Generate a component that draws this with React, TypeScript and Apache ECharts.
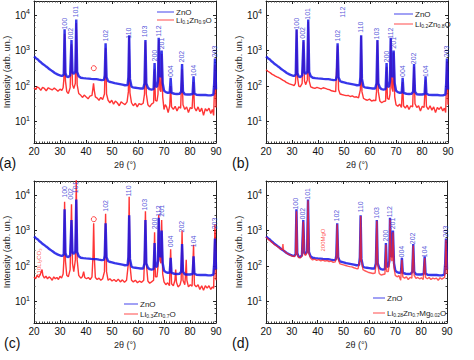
import React, { useEffect, useRef } from 'react';
import * as echarts from 'echarts';

const PEAK_HKL = ['100', '002', '101', '102', '110', '103', '200', '112', '201', '004', '202', '104', '203'];
const PEAK_POS = [31.77, 34.42, 36.25, 47.54, 56.6, 62.86, 66.38, 67.96, 69.1, 72.56, 76.95, 81.37, 89.6];
const LABEL_Y_A = [3800, 2000, 8300, 1750, 2100, 2300, 480, 2400, 1050, 175, 450, 180, 630];
const LABEL_Y_B = [3800, 2100, 7200, 1750, 3100, 2000, 450, 2100, 1100, 175, 400, 175, 630];
const LABEL_Y_C = [8200, 7200, 11000, 3300, 8800, 3550, 1050, 2400, 2400, 330, 860, 330, 1050];
const LABEL_Y_D = [3800, 2000, 7200, 1750, 3150, 2100, 480, 2300, 1050, 170, 400, 170, 630];

const SERIES_NAMES = ['ZnO', 'Li0.1Zn0.9O', 'Li0.2Zn0.8O', 'Li0.3Zn0.7O', 'Li0.28Zn0.7Mg0.02O'];
const PANEL_TAGS = ['(a)', '(b)', '(c)', '(d)'];

const ZNO: [number, number][] = [
  [20, 680], [20.5, 640], [21, 590], [21.5, 560], [22, 510], [22.5, 480], [23, 440], [23.5, 415], [24, 390], [24.5, 365],
  [25, 345], [25.5, 320], [26, 300], [26.5, 282], [27, 265], [27.5, 250], [28, 235], [28.5, 224], [29, 215], [29.5, 207],
  [30, 200], [30.5, 196], [31, 195], [31.45, 215], [31.77, 4000], [32.1, 230], [32.6, 185], [33.2, 180], [33.9, 200],
  [34.42, 2000], [34.8, 240], [35.3, 220], [35.9, 260], [36.25, 7500], [36.6, 250], [37.2, 190], [38, 172], [39, 168],
  [40, 165], [41, 163], [42, 160], [43, 158], [44, 157], [45, 152], [46, 148], [46.9, 150], [47.2, 200], [47.54, 1600],
  [47.9, 180], [48.5, 138], [49, 133], [50, 128], [51, 122], [52, 118], [53, 114], [54, 110], [55, 106], [56, 108],
  [56.3, 180], [56.6, 2700], [56.9, 160], [57.5, 98], [58, 92], [59, 90], [60, 88], [61, 86], [62, 86], [62.5, 120],
  [62.86, 2000], [63.2, 120], [63.8, 90], [64.5, 82], [65.2, 80], [66, 82], [66.38, 450], [66.7, 100], [67.3, 95],
  [67.7, 140], [67.96, 2300], [68.4, 200], [68.8, 180], [69.1, 1000], [69.5, 120], [70, 75], [70.7, 68], [71.5, 65],
  [72.2, 66], [72.56, 170], [72.9, 65], [74, 61], [75, 60], [76, 61], [76.6, 70], [76.95, 420], [77.3, 70], [78, 59],
  [79, 58], [80, 58], [81, 60], [81.37, 190], [81.7, 62], [82.5, 57], [84, 56], [85, 56], [86, 56], [87, 55], [88, 55],
  [89, 58], [89.3, 120], [89.6, 600], [89.85, 250], [90, 80],
];

const LI01: [number, number][] = [
  [20, 90], [20.7, 80], [21.2, 95], [22, 88], [22.6, 76], [23.3, 92], [24, 86], [24.7, 74], [25.5, 90], [26.2, 84],
  [27, 78], [27.8, 88], [28.5, 80], [29.2, 72], [30, 82], [30.7, 76], [31.2, 90], [31.5, 160], [31.77, 3000], [32.1, 140],
  [32.6, 70], [33.2, 62], [33.9, 90], [34.42, 1500], [34.8, 110], [35.3, 85], [35.9, 120], [36.25, 6000], [36.6, 110],
  [37.2, 62], [38, 55], [38.7, 48], [39.3, 56], [40, 50], [40.8, 44], [41.5, 52], [42.3, 55], [42.6, 80], [42.9, 120],
  [43.2, 75], [43.6, 50], [44.3, 46], [45, 40], [45.7, 48], [46.4, 42], [47.1, 60], [47.54, 1200], [47.9, 60], [48.5, 40],
  [49.2, 34], [49.9, 40], [50.6, 31], [51.3, 38], [52, 34], [52.8, 28], [53.5, 36], [54.2, 33], [55, 30], [55.8, 36],
  [56.3, 70], [56.6, 2500], [56.9, 65], [57.5, 34], [58.2, 28], [59, 33], [59.7, 26], [60.4, 32], [61.2, 30], [62, 33],
  [62.5, 60], [62.86, 1800], [63.2, 60], [63.8, 30], [64.5, 26], [65.2, 31], [66, 34], [66.38, 300], [66.7, 40], [67.3, 38],
  [67.7, 60], [67.96, 2000], [68.4, 80], [68.8, 70], [69.1, 800], [69.5, 50], [70, 22], [70.5, 30], [71, 26], [71.6, 18],
  [72.2, 28], [72.56, 100], [72.9, 26], [73.6, 22], [74.3, 27], [75, 20], [75.7, 26], [76.4, 24], [76.95, 300], [77.3, 30],
  [78, 22], [78.7, 26], [79.4, 18], [80.1, 25], [80.8, 23], [81.37, 130], [81.7, 25], [82.4, 20], [83.1, 26], [83.8, 19],
  [84.5, 24], [85.2, 15], [85.9, 23], [86.6, 20], [87.3, 24], [88, 17], [88.6, 22], [89.1, 15], [89.35, 60], [89.6, 400],
  [89.85, 100], [90, 25],
];

const LI02: [number, number][] = [
  [20, 290], [20.6, 265], [21.2, 250], [21.8, 232], [22.4, 215], [23, 205], [23.6, 192], [24.2, 182], [24.8, 175],
  [25.4, 165], [26, 155], [26.6, 145], [27.2, 138], [27.8, 128], [28.4, 122], [29, 116], [29.6, 112], [30.2, 108],
  [30.8, 104], [31.3, 120], [31.5, 200], [31.77, 3800], [32.1, 180], [32.6, 100], [33.2, 96], [33.9, 120], [34.42, 1800],
  [34.8, 140], [35.3, 110], [35.9, 150], [36.25, 6500], [36.6, 140], [37.2, 95], [38, 90], [38.8, 86], [39.6, 92],
  [40.4, 88], [41.2, 84], [42, 90], [42.8, 86], [43.6, 82], [44.4, 80], [45.2, 74], [46, 72], [46.8, 70], [47.54, 1400],
  [47.9, 80], [48.5, 60], [49.2, 58], [50, 56], [50.8, 54], [51.6, 55], [52.4, 51], [53.2, 53], [54, 49], [54.8, 50],
  [55.6, 47], [56.3, 80], [56.6, 2600], [56.9, 70], [57.5, 45], [58.2, 42], [59, 40], [59.8, 43], [60.6, 38], [61.4, 40],
  [62.2, 39], [62.5, 70], [62.86, 1900], [63.2, 70], [63.8, 38], [64.5, 34], [65.2, 37], [66, 38], [66.38, 350], [66.7, 45],
  [67.3, 42], [67.7, 60], [67.96, 2100], [68.4, 90], [68.8, 70], [69.1, 900], [69.5, 50], [70, 30], [70.7, 27], [71.4, 31],
  [72.1, 25], [72.56, 130], [72.9, 28], [73.6, 24], [74.3, 29], [75, 22], [75.7, 28], [76.4, 26], [76.95, 350], [77.3, 32],
  [78, 25], [78.7, 28], [79.4, 20], [80.1, 27], [80.8, 25], [81.37, 150], [81.7, 27], [82.4, 22], [83.1, 28], [83.8, 21],
  [84.5, 26], [85.2, 18], [85.9, 25], [86.6, 22], [87.3, 26], [88, 20], [88.6, 24], [89.1, 18], [89.35, 80], [89.6, 500],
  [89.85, 120], [90, 30],
];

const LI03: [number, number][] = [
  [20, 50], [20.6, 44], [21.2, 55], [21.8, 48], [22.4, 58], [22.8, 70], [23.1, 80], [23.4, 55], [24, 46], [24.6, 52],
  [25.2, 44], [25.8, 50], [26.4, 46], [27, 40], [27.6, 50], [28.2, 44], [28.8, 48], [29.4, 42], [30, 52], [30.6, 46],
  [31.2, 60], [31.5, 150], [31.77, 6500], [32.1, 140], [32.6, 55], [33.2, 50], [33.9, 80], [34.42, 5500], [34.8, 120],
  [35.3, 70], [35.9, 150], [36.1, 2000], [36.25, 30000], [36.6, 150], [37.2, 55], [38, 46], [38.6, 50], [39.1, 70],
  [39.5, 48], [40.2, 44], [40.9, 48], [41.6, 42], [42.3, 50], [42.7, 200], [42.95, 1600], [43.2, 180], [43.6, 48],
  [44.3, 42], [45, 46], [45.7, 40], [46.4, 44], [47.1, 70], [47.54, 3000], [47.9, 70], [48.5, 40], [49.2, 44], [50, 38],
  [50.8, 42], [51.6, 37], [52.4, 43], [53.2, 36], [54, 41], [54.8, 35], [55.6, 40], [56.3, 120], [56.6, 9000], [56.9, 110],
  [57.5, 40], [58.2, 36], [59, 40], [59.8, 34], [60.6, 38], [61.4, 35], [62.2, 40], [62.5, 150], [62.86, 3500], [63.2, 120],
  [63.8, 38], [64.5, 33], [65.2, 36], [66, 40], [66.38, 900], [66.7, 50], [67.3, 50], [67.7, 100], [67.96, 2800],
  [68.4, 150], [68.8, 120], [69.1, 2000], [69.5, 60], [70, 36], [70.7, 30], [71.4, 34], [72.1, 28], [72.56, 300],
  [72.9, 32], [73.6, 28], [74.2, 40], [74.5, 80], [74.8, 35], [75.4, 26], [76.2, 30], [76.6, 40], [76.95, 1000],
  [77.3, 40], [78, 30], [78.3, 60], [78.55, 150], [78.8, 40], [79.4, 26], [80.1, 30], [80.8, 27], [81.37, 400],
  [81.7, 30], [82.4, 26], [83.1, 30], [83.8, 22], [84.5, 28], [85.2, 21], [85.9, 28], [86.6, 24], [87.3, 28], [88, 22],
  [88.6, 26], [89.1, 24], [89.35, 150], [89.6, 1500], [89.85, 300], [90, 40],
];

const LI028: [number, number][] = [
  [20, 650], [20.6, 590], [21.2, 540], [21.8, 500], [22.4, 460], [23, 420], [23.6, 390], [24.2, 365], [24.8, 340],
  [25.4, 310], [26, 290], [26.3, 300], [26.55, 420], [26.8, 280], [27.4, 255], [28, 232], [28.6, 218], [29.2, 206],
  [29.8, 196], [30.4, 190], [31, 186], [31.45, 210], [31.77, 3500], [32.1, 220], [32.6, 175], [33.2, 170], [33.9, 190],
  [34.42, 1800], [34.8, 220], [35.3, 200], [35.9, 240], [36.25, 7000], [36.6, 230], [37.2, 170], [38, 150], [38.8, 158],
  [39.6, 145], [40.4, 152], [41.2, 140], [42, 148], [42.8, 138], [43.6, 144], [44.4, 135], [45.2, 138], [46, 128],
  [46.8, 132], [47.2, 180], [47.54, 1500], [47.9, 160], [48.5, 118], [49.2, 112], [50, 108], [50.8, 104], [51.6, 100],
  [52.4, 97], [53.2, 95], [54, 90], [54.8, 86], [55.6, 84], [56.3, 150], [56.6, 2600], [56.9, 140], [57.5, 80], [58.2, 74],
  [59, 70], [59.8, 66], [60.6, 64], [61.4, 62], [62.2, 64], [62.5, 110], [62.86, 1900], [63.2, 110], [63.8, 62], [64.5, 56],
  [65.2, 58], [66, 60], [66.38, 400], [66.7, 70], [67.3, 70], [67.7, 120], [67.96, 2100], [68.4, 150], [68.8, 140],
  [69.1, 900], [69.5, 90], [70, 55], [70.7, 50], [71.4, 54], [72.1, 40], [72.56, 150], [72.9, 50], [73.6, 46], [74.3, 50],
  [75, 42], [75.7, 48], [76.4, 46], [76.95, 380], [77.3, 55], [78, 45], [78.7, 48], [79.4, 44], [80.1, 47], [80.8, 42],
  [81.37, 170], [81.7, 48], [82.4, 44], [83.1, 48], [83.8, 42], [84.5, 46], [85.2, 44], [85.9, 46], [86.6, 40], [87.3, 47],
  [88, 43], [88.6, 46], [89.1, 48], [89.35, 110], [89.6, 550], [89.85, 200], [90, 60],
];

// extra annotations: [x, y]
const IMPURITY_MARK_A: [number, number][] = [[43, 320]];
const IMPURITY_MARK_C: [number, number][] = [[43, 2100]];
const LI2CO3_LABEL: [number, number][] = [[22, 50]];
const MGO_LABEL: [number, number][] = [[42.3, 250]];
const STRAY_LABEL_B: [number, number][] = [[49.6, 8200]];

const BLUE = '#1414e6';
const RED = '#ff1f1f';
const LABEL_BLUE = '#2a2ad0';
const FONT = 'Liberation Sans, Arial, sans-serif';

const GRIDS = [
  { left: 34, top: 1, width: 182, height: 142 },
  { left: 266, top: 1, width: 182, height: 142 },
  { left: 34, top: 181, width: 182, height: 142 },
  { left: 266, top: 181, width: 181, height: 142 },
];

// legend layout per panel: [lineX, lineLength, y1, y2]
const LEGEND_LAYOUT = [
  [157, 17, 12, 20],
  [394, 19, 14, 24],
  [124, 14, 304, 314],
  [373, 12, 298, 313],
];

function isPow10(v: number) {
  const l = Math.log10(v);
  return Math.abs(l - Math.round(l)) < 1e-6;
}

function subFmt(name: string) {
  return name.replace(/(\d+(?:\.\d+)?)/g, '{s|$1}');
}

export default function App() {
  const ref = useRef<HTMLDivElement>(null);
  useEffect(() => {
    document.body.style.margin = '0';
    if (!ref.current) return;
    const chart = echarts.init(ref.current, undefined, { renderer: 'svg' });

    const xAxis: any[] = [];
    const yAxis: any[] = [];
    GRIDS.forEach((_, i) => {
      const common = {
        gridIndex: i,
        type: 'value',
        min: 20,
        max: 90,
        interval: 10,
        axisLine: { show: true, onZero: false, lineStyle: { color: '#222', width: 1 } },
        axisTick: { show: true, inside: true, length: 3, lineStyle: { color: '#222' } },
        minorTick: { show: true, splitNumber: 10, length: 1.5, lineStyle: { color: '#444' } },
        splitLine: { show: false },
      };
      xAxis.push({
        ...common,
        position: 'bottom',
        axisLabel: { fontSize: 10, color: '#111', margin: 3, fontFamily: FONT },
        name: '2θ (°)',
        nameLocation: 'middle',
        nameGap: 17,
        nameTextStyle: { fontSize: 9, color: '#222', fontFamily: FONT },
      });
      xAxis.push({ ...common, position: 'top', axisLabel: { show: false } });
      const ycommon = {
        gridIndex: i,
        type: 'log',
        logBase: 10,
        min: 2.5,
        max: 25000,
        axisLine: { show: true, onZero: false, lineStyle: { color: '#222', width: 1 } },
        axisTick: { show: true, inside: true, length: 3, lineStyle: { color: '#222' } },
        minorTick: { show: true, splitNumber: 5, length: 1.5, lineStyle: { color: '#444' } },
        splitLine: { show: false },
      };
      yAxis.push({
        ...ycommon,
        position: 'left',
        axisLabel: {
          fontSize: 10,
          color: '#111',
          margin: 4,
          fontFamily: FONT,
          formatter: (v: number) => (isPow10(v) ? '10{sup|' + Math.round(Math.log10(v)) + '}' : ''),
          rich: { sup: { fontSize: 7, fontFamily: FONT, color: '#111', padding: [0, 0, 7, 0] } },
        },
        name: 'Intensity (arb. un.)',
        nameLocation: 'middle',
        nameGap: 22,
        nameTextStyle: { fontSize: 9, color: '#222', fontFamily: FONT },
      });
      yAxis.push({ ...ycommon, position: 'right', axisLabel: { show: false } });
    });

    const redData = [LI01, LI02, LI03, LI028];
    const labelYs = [LABEL_Y_A, LABEL_Y_B, LABEL_Y_C, LABEL_Y_D];
    const series: any[] = [];

    GRIDS.forEach((_, i) => {
      const xi = 2 * i;
      const yi = 2 * i;
      const redSeries = {
        type: 'line',
        name: SERIES_NAMES[i + 1],
        xAxisIndex: xi,
        yAxisIndex: yi,
        data: redData[i],
        symbol: 'none',
        showSymbol: false,
        lineStyle: { color: RED, width: 1.4, opacity: i === 3 ? 0.75 : 0.9 },
        itemStyle: { color: RED },
        z: i === 3 ? 3 : 2,
      };
      const blueSeries = {
        type: 'line',
        name: SERIES_NAMES[0],
        xAxisIndex: xi,
        yAxisIndex: yi,
        data: ZNO,
        symbol: 'none',
        showSymbol: false,
        lineStyle: { color: BLUE, width: 2.4, opacity: 0.85 },
        itemStyle: { color: BLUE },
        z: i === 3 ? 2 : 3,
      };
      series.push(redSeries, blueSeries);
      series.push({
        type: 'scatter',
        xAxisIndex: xi,
        yAxisIndex: yi,
        symbol: 'circle',
        symbolSize: 1,
        itemStyle: { color: 'rgba(0,0,0,0)' },
        silent: true,
        z: 5,
        data: PEAK_POS.map((x, k) => [x, labelYs[i][k], PEAK_HKL[k]]),
        label: {
          show: true,
          position: [0, 0],
          rotate: 90,
          align: 'left',
          verticalAlign: 'middle',
          fontSize: 7,
          color: LABEL_BLUE,
          fontFamily: FONT,
          formatter: (p: any) => p.data[2],
        },
      });
    });

    // stray label in (b)
    series.push({
      type: 'scatter', xAxisIndex: 2, yAxisIndex: 2, symbolSize: 1, silent: true, z: 5,
      itemStyle: { color: 'rgba(0,0,0,0)' },
      data: STRAY_LABEL_B,
      label: { show: true, position: [0, 0], rotate: 90, align: 'left', verticalAlign: 'middle', fontSize: 7, color: LABEL_BLUE, fontFamily: FONT, formatter: () => '112' },
    });
    // impurity markers
    [[0, IMPURITY_MARK_A], [4, IMPURITY_MARK_C]].forEach(([idx, d]: any) => {
      series.push({
        type: 'scatter', xAxisIndex: idx, yAxisIndex: idx, symbol: 'circle', symbolSize: 5, silent: true, z: 6,
        itemStyle: { color: '#fff', borderColor: RED, borderWidth: 1 },
        data: d,
      });
    });
    series.push({
      type: 'scatter', xAxisIndex: 4, yAxisIndex: 4, symbolSize: 1, silent: true, z: 5,
      itemStyle: { color: 'rgba(0,0,0,0)' },
      data: LI2CO3_LABEL,
      label: { show: true, position: [0, 0], rotate: 90, align: 'left', verticalAlign: 'middle', fontSize: 6, color: RED, fontFamily: FONT, formatter: () => '110Li₂CO₃' },
    });
    series.push({
      type: 'scatter', xAxisIndex: 6, yAxisIndex: 6, symbolSize: 1, silent: true, z: 5,
      itemStyle: { color: 'rgba(0,0,0,0)' },
      data: MGO_LABEL,
      label: { show: true, position: [0, 0], rotate: 90, align: 'left', verticalAlign: 'middle', fontSize: 6, color: RED, fontFamily: FONT, formatter: () => '200MgO' },
    });

    const richSub = {
      s: { fontSize: 5, fontFamily: FONT, fill: '#222', padding: [4, 0, 0, 0] },
    };
    const graphic: any[] = [];
    LEGEND_LAYOUT.forEach(([lx, len, y1, y2], i) => {
      const entries: [string, string, number][] = [
        [SERIES_NAMES[0], BLUE, y1],
        [SERIES_NAMES[i + 1], RED, y2],
      ];
      entries.forEach(([name, color, y]) => {
        graphic.push({
          type: 'line',
          shape: { x1: lx, y1: y, x2: lx + len, y2: y },
          style: { stroke: color, lineWidth: 1, opacity: 0.8 },
          z: 10,
        });
        graphic.push({
          type: 'text',
          x: lx + len + 2,
          y,
          z: 10,
          style: {
            text: subFmt(name),
            fontSize: 8,
            fontFamily: FONT,
            fill: '#222',
            verticalAlign: 'middle',
            rich: richSub,
          },
        });
      });
    });

    const tagPos = [[-1, 156], [232, 156], [4, 336], [232, 336]];
    PANEL_TAGS.forEach((t, i) => {
      graphic.push({
        type: 'text',
        left: tagPos[i][0],
        top: tagPos[i][1],
        style: { text: t, fontSize: 14, fill: '#111', fontFamily: FONT },
      });
    });

    chart.setOption({
      animation: false,
      backgroundColor: '#fff',
      grid: GRIDS.map((g) => ({ ...g, containLabel: false })),
      xAxis,
      yAxis,
      series,
      graphic,
    });
    return () => chart.dispose();
  }, []);
  return <div ref={ref} style={{ position: 'fixed', left: 0, top: 0, width: 474, height: 360 }} />;
}
